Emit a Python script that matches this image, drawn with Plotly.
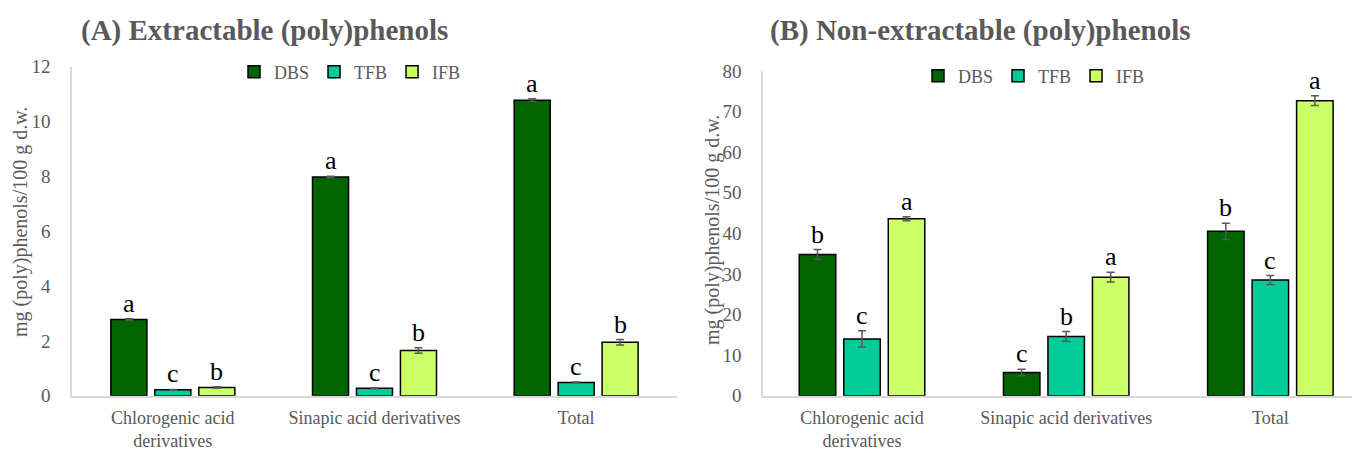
import plotly.graph_objects as go

categories = ["Chlorogenic acid<br>derivatives", "Sinapic acid derivatives", "Total"]
series = ["DBS", "TFB", "IFB"]
colors = ["#006400", "#00CC99", "#CCFF66"]

# (A) Extractable
ext_vals = {"DBS": [2.78, 7.98, 10.78], "TFB": [0.22, 0.27, 0.48], "IFB": [0.30, 1.65, 1.95]}
ext_err = {"DBS": [0.03, 0.02, 0.05], "TFB": [0.01, 0.02, 0.02], "IFB": [0.03, 0.10, 0.10]}
ext_letters = {"DBS": ["a", "a", "a"], "TFB": ["c", "c", "c"], "IFB": ["b", "b", "b"]}

# (B) Non-extractable
non_vals = {"DBS": [34.8, 5.7, 40.5], "TFB": [14.0, 14.6, 28.5], "IFB": [43.6, 29.2, 72.7]}
non_err = {"DBS": [1.2, 0.8, 2.0], "TFB": [2.0, 1.2, 1.1], "IFB": [0.5, 1.2, 1.2]}
non_letters = {"DBS": ["b", "c", "b"], "TFB": ["c", "b", "c"], "IFB": ["a", "a", "a"]}

W, H = 1352, 453
SERIF = "Liberation Serif"
GRAY = "#595959"

fig = go.Figure()

panels = [
    ("x", "y", "legend", ext_vals, ext_err, ext_letters),
    ("x2", "y2", "legend2", non_vals, non_err, non_letters),
]
for xa, ya, lg, vals, errs, lets in panels:
    for s, c in zip(series, colors):
        fig.add_trace(go.Bar(
            x=categories, y=vals[s], name=s, xaxis=xa, yaxis=ya, legend=lg,
            marker=dict(color=c, line=dict(color="black", width=1.5)),
            error_y=dict(type="data", array=errs[s], color=GRAY, thickness=1.5, width=4),
            hoverinfo="x+y+name",
        ))

offsets = [-1, 0, 1]
slot = 0.218
annotations = []
for xa, ya, vals, errs, lets in [("x", "y", ext_vals, ext_err, ext_letters),
                                  ("x2", "y2", non_vals, non_err, non_letters)]:
    for k, s in enumerate(series):
        for i in range(len(categories)):
            annotations.append(dict(
                x=i + offsets[k] * slot, y=vals[s][i] + errs[s][i], xref=xa, yref=ya,
                text=lets[s][i], showarrow=False, yanchor="bottom", yshift=-1,
                font=dict(family=SERIF, size=26, color="black"),
            ))

annotations += [
    dict(x=79 / W, y=1 - 30 / H, xref="paper", yref="paper", xanchor="left", yanchor="middle",
         text="<b>(A) Extractable (poly)phenols</b>", showarrow=False,
         font=dict(family=SERIF, size=29, color=GRAY)),
    dict(x=768 / W, y=1 - 30 / H, xref="paper", yref="paper", xanchor="left", yanchor="middle",
         text="<b>(B) Non-extractable (poly)phenols</b>", showarrow=False,
         font=dict(family=SERIF, size=29, color=GRAY)),
    dict(x=20 / W, y=1 - 222 / H, xref="paper", yref="paper", xanchor="center", yanchor="middle",
         text="mg (poly)phenols/100 g d.w.", showarrow=False, textangle=-90,
         font=dict(family=SERIF, size=20, color=GRAY)),
    dict(x=712 / W, y=1 - 230 / H, xref="paper", yref="paper", xanchor="center", yanchor="middle",
         text="mg (poly)phenols/100 g d.w.", showarrow=False, textangle=-90,
         font=dict(family=SERIF, size=20, color=GRAY)),
]

tickfont = dict(family=SERIF, size=19, color=GRAY)
xtickfont = dict(family=SERIF, size=18, color=GRAY)
axis_common = dict(showgrid=False, zeroline=False, showline=True, linecolor="#D9D9D9", linewidth=1.5,
                   ticks="", automargin=False)

fig.update_layout(
    width=W, height=H, margin=dict(l=0, r=0, t=0, b=0, pad=0),
    paper_bgcolor="white", plot_bgcolor="white",
    barmode="group", bargap=0.346, bargroupgap=0.18,
    xaxis=dict(domain=[72 / W, 677 / W], range=[-0.5, 2.5], anchor="y", ticklabelstandoff=5,
               tickfont=xtickfont, **axis_common),
    yaxis=dict(domain=[1 - 395.7 / H, 1 - 66.7 / H], range=[0, 12], dtick=2, anchor="x",
               ticklabelstandoff=16, tickfont=tickfont, **axis_common),
    xaxis2=dict(domain=[763 / W, 1.0], range=[-0.485, 2.4], anchor="y2", ticklabelstandoff=5,
                tickfont=xtickfont, **axis_common),
    yaxis2=dict(domain=[1 - 395.7 / H, 1 - 71 / H], range=[0, 80], dtick=10, anchor="x2",
                ticklabelstandoff=16, tickfont=tickfont, **axis_common),
    legend=dict(orientation="h", x=350 / W, y=1 - 72 / H, xanchor="center", yanchor="middle",
                font=dict(family=SERIF, size=18, color=GRAY), itemwidth=30, bgcolor="rgba(0,0,0,0)"),
    legend2=dict(orientation="h", x=1034 / W, y=1 - 76 / H, xanchor="center", yanchor="middle",
                 font=dict(family=SERIF, size=18, color=GRAY), itemwidth=30, bgcolor="rgba(0,0,0,0)"),
    annotations=annotations,
    showlegend=True,
)

fig.write_html("out.html", config={"displayModeBar": False},
               post_script="document.body.style.margin='0';document.body.style.overflow='hidden';")
